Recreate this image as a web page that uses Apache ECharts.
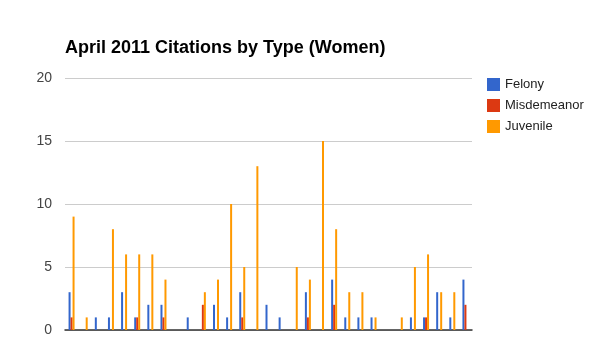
<!DOCTYPE html>
<html><head><meta charset="utf-8">
<script src="https://cdn.jsdelivr.net/npm/echarts@6/dist/echarts.min.js"></script>
<style>html,body{margin:0;padding:0;background:#fff}#c{width:598px;height:361px}</style>
</head><body><div id="c"></div>
<script>
const days = Array.from({length:31},(_,i)=>String(i+1));
const felony      = [3,0,1,1,3,1,2,2,0,1,0,2,1,3,0,2,1,0,3,0,4,1,1,1,0,0,1,1,3,1,4];
const misdemeanor = [1,0,0,0,0,1,0,1,0,0,2,0,0,1,0,0,0,0,1,0,2,0,0,0,0,0,0,1,0,0,2];
const juvenile    = [9,1,0,8,6,6,6,4,0,0,3,4,10,5,13,0,0,5,4,15,8,3,3,1,0,1,5,6,3,3,0];
const yTicks = [0,5,10,15,20];

const chart = echarts.init(document.getElementById('c'), null, {renderer:'canvas'});
const mk = (name, data, color) => ({name, type:'bar', data, barWidth:2, barGap:'0%', itemStyle:{color}});
chart.setOption({
  animation:false,
  title:{text:'April 2011 Citations by Type (Women)', left:60, top:34,
    textStyle:{fontFamily:'Liberation Sans, Arial', fontWeight:'bold', fontSize:18, color:'#000'}},
  legend:{orient:'vertical', left:482, top:73, itemWidth:13, itemHeight:13, itemGap:8,
    icon:'rect', textStyle:{fontFamily:'Liberation Sans, Arial', fontSize:13, color:'#222'},
    data:['Felony','Misdemeanor','Juvenile']},
  grid:{left:65, right:126, top:78, bottom:31, containLabel:false},
  xAxis:{type:'category', data:days, axisTick:{show:false}, axisLabel:{show:false},
    axisLine:{lineStyle:{color:'#333', width:1.5}}},
  yAxis:{type:'value', min:yTicks[0], max:yTicks[yTicks.length-1], interval:5,
    axisLine:{show:false}, axisTick:{show:false},
    axisLabel:{margin:13, fontFamily:'Liberation Sans, Arial', fontSize:14, color:'#444'},
    splitLine:{lineStyle:{color:'#ccc'}}},
  series:[mk('Felony',felony,'#3366cc'), mk('Misdemeanor',misdemeanor,'#dc3912'), mk('Juvenile',juvenile,'#ff9900')]
});
</script></body></html>
